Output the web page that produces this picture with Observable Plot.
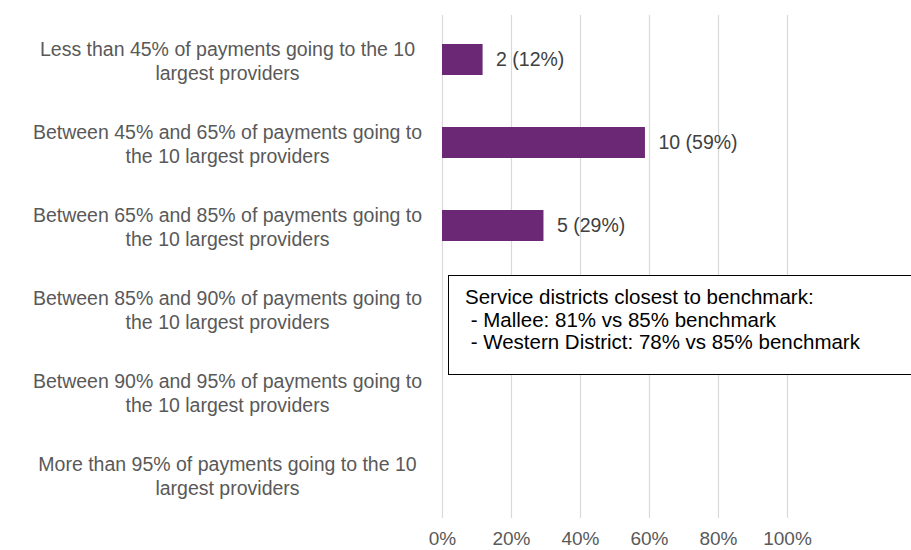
<!DOCTYPE html>
<html>
<head>
<meta charset="utf-8">
<script src="https://cdn.jsdelivr.net/npm/d3@7"></script>
<script src="https://cdn.jsdelivr.net/npm/@observablehq/plot@0.6"></script>
<style>
  html, body { margin: 0; padding: 0; background: #fff; }
  #wrap { position: relative; width: 911px; height: 550px; overflow: hidden; font-family: "Liberation Sans", Arial, sans-serif; }
  #note {
    position: absolute; left: 448px; top: 275px; width: 480px; height: 100px;
    border: 1.3px solid #000; background: #fff; box-sizing: border-box;
    padding: 10px 0 0 16px; font-size: 20.5px; line-height: 22.5px; color: #000; white-space: pre;
  }
</style>
</head>
<body>
<div id="wrap"></div>
<script>
const categories = [
  "Less than 45% of payments going to the 10\nlargest providers",
  "Between 45% and 65% of payments going to\nthe 10 largest providers",
  "Between 65% and 85% of payments going to\nthe 10 largest providers",
  "Between 85% and 90% of payments going to\nthe 10 largest providers",
  "Between 90% and 95% of payments going to\nthe 10 largest providers",
  "More than 95% of payments going to the 10\nlargest providers"
];
const counts = [2, 10, 5, 0, 0, 0];
const xTicks = [0, 0.2, 0.4, 0.6, 0.8, 1.0];
const noteLines = [
  "Service districts closest to benchmark:",
  " - Mallee: 81% vs 85% benchmark",
  " - Western District: 78% vs 85% benchmark"
];

const total = d3.sum(counts);
const data = categories.map((c, i) => ({
  cat: c,
  n: counts[i],
  share: counts[i] / total
}));
const barData = data.filter(d => d.n > 0);

const chart = Plot.plot({
  width: 911,
  height: 550,
  marginLeft: 442,
  marginRight: 124,
  marginTop: 15,
  marginBottom: 32,
  style: { fontFamily: "Liberation Sans, Arial, sans-serif", fontSize: "19.5px", background: "#fff" },
  x: { domain: [0, 1], ticks: xTicks, tickFormat: d3.format(".0%"), tickSize: 0, label: null },
  y: { domain: categories, paddingInner: 0.63, paddingOuter: 0.315, axis: null },
  marks: [
    Plot.gridX(xTicks, { stroke: "#d9d9d9", strokeOpacity: 1, strokeWidth: 1.2 }),
    Plot.axisX({ ticks: xTicks, tickFormat: d3.format(".0%"), tickSize: 0, tickPadding: 13, color: "#595959", fontSize: 19, label: null }),
    Plot.barX(barData, { x: "share", y: "cat", fill: "#6b2975" }),
    Plot.text(barData, {
      x: "share", y: "cat", text: d => `${d.n} (${Math.round(d.share * 100)}%)`,
      textAnchor: "start", dx: 13, fill: "#404040", fontSize: 19.5
    }),
    Plot.text(data, {
      y: "cat", text: "cat", frameAnchor: "left", dx: -215, dy: 0,
      textAnchor: "middle", fill: "#595959", fontSize: 19.5, lineHeight: 1.28
    })
  ]
});

const wrap = document.getElementById("wrap");
wrap.appendChild(chart);
const note = document.createElement("div");
note.id = "note";
note.textContent = noteLines.join("\n");
wrap.appendChild(note);
</script>
</body>
</html>
